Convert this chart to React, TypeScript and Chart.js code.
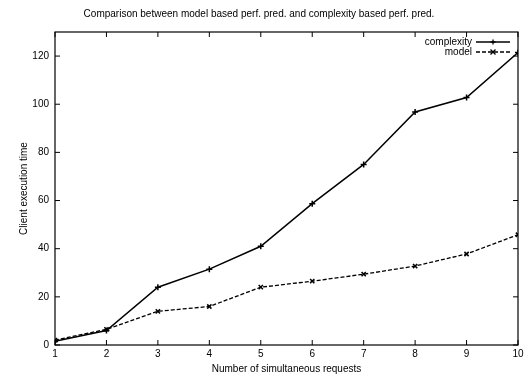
import React, { useEffect, useRef } from "react";
import { Chart, registerables } from "chart.js";

Chart.register(...registerables);

const categories = [1, 2, 3, 4, 5, 6, 7, 8, 9, 10];
const complexityValues = [1.5, 6, 24, 31.5, 41, 58.7, 75, 96.8, 102.8, 121.5];
const modelValues = [2, 6.5, 14, 16, 24, 26.5, 29.4, 32.8, 37.8, 45.8];
const yTicks = [0, 20, 40, 60, 80, 100, 120];
const titleText = "Comparison between model based perf. pred. and complexity based perf. pred.";
const xTitle = "Number of simultaneous requests";
const yTitle = "Client execution time";

const FONT = "'Liberation Sans', Arial, sans-serif";

const framePlugin = {
  id: "gnuFrame",
  afterDatasetsDraw(chart: any) {
    const { ctx, chartArea } = chart;
    const { left, right, top, bottom } = chartArea;
    const xs = chart.scales.x;
    const ys = chart.scales.y;
    ctx.save();
    ctx.strokeStyle = "#000";
    ctx.lineWidth = 1.2;
    ctx.strokeRect(left, top, right - left, bottom - top);
    ctx.lineWidth = 1;
    const tl = 5;
    ctx.beginPath();
    categories.forEach((c) => {
      const px = xs.getPixelForValue(c);
      ctx.moveTo(px, bottom);
      ctx.lineTo(px, bottom - tl);
      ctx.moveTo(px, top);
      ctx.lineTo(px, top + tl);
    });
    yTicks.forEach((v) => {
      const py = ys.getPixelForValue(v);
      ctx.moveTo(left, py);
      ctx.lineTo(left + tl, py);
      ctx.moveTo(right, py);
      ctx.lineTo(right - tl, py);
    });
    ctx.stroke();

    // legend inside top-right
    ctx.font = "10px " + FONT;
    ctx.textAlign = "right";
    ctx.textBaseline = "middle";
    ctx.fillStyle = "#000";
    chart.data.datasets.forEach((ds: any, i: number) => {
      const y = top + 10 + i * 10;
      const textX = right - 46;
      ctx.fillText(ds.label, textX, y);
      const x0 = right - 42;
      const x1 = right - 8;
      ctx.beginPath();
      ctx.setLineDash(ds.borderDash || []);
      ctx.lineWidth = 1.3;
      ctx.moveTo(x0, y);
      ctx.lineTo(x1, y);
      ctx.stroke();
      ctx.setLineDash([]);
      const mx = (x0 + x1) / 2;
      const r = 2.5;
      ctx.beginPath();
      if (ds.pointStyle === "crossRot") {
        ctx.moveTo(mx - r, y - r);
        ctx.lineTo(mx + r, y + r);
        ctx.moveTo(mx - r, y + r);
        ctx.lineTo(mx + r, y - r);
      } else {
        ctx.moveTo(mx, y - r);
        ctx.lineTo(mx, y + r);
        ctx.moveTo(mx - r, y);
        ctx.lineTo(mx + r, y);
      }
      ctx.stroke();
    });
    ctx.restore();
  },
};

export default function App() {
  const ref = useRef<HTMLCanvasElement | null>(null);
  useEffect(() => {
    document.body.style.margin = "0";
    const chart = new Chart(ref.current as HTMLCanvasElement, {
      type: "line",
      data: {
        datasets: [
          {
            label: "complexity",
            data: categories.map((c, i) => ({ x: c, y: complexityValues[i] })),
            borderColor: "#000",
            backgroundColor: "#000",
            borderWidth: 1.5,
            pointStyle: "cross",
            pointRadius: 3,
            pointBorderWidth: 1.5,
            tension: 0,
          },
          {
            label: "model",
            data: categories.map((c, i) => ({ x: c, y: modelValues[i] })),
            borderColor: "#000",
            backgroundColor: "#000",
            borderWidth: 1.3,
            borderDash: [4, 2],
            pointStyle: "crossRot",
            pointRadius: 3,
            pointBorderWidth: 1.5,
            tension: 0,
          },
        ],
      },
      options: {
        animation: false,
        responsive: false,
        layout: { padding: { left: 0, right: 10, top: 0, bottom: 0 } },
        plugins: {
          legend: { display: false },
          tooltip: { enabled: false },
          title: {
            display: true,
            text: titleText,
            color: "#000",
            font: { family: FONT, size: 10, weight: "normal" },
            padding: { top: 8, bottom: 12 },
          },
        },
        scales: {
          x: {
            type: "linear",
            min: 1,
            max: 10,
            grid: { display: false, drawTicks: false, tickLength: 0 },
            border: { display: false },
            afterBuildTicks: (s: any) => {
              s.ticks = categories.map((v) => ({ value: v }));
            },
            ticks: {
              color: "#000",
              font: { family: FONT, size: 10 },
              padding: 3,
              maxRotation: 0,
            },
            title: {
              display: true,
              text: xTitle,
              color: "#000",
              font: { family: FONT, size: 10 },
              padding: { top: 0, bottom: 2 },
            },
          },
          y: {
            type: "linear",
            min: 0,
            max: 130,
            grid: { display: false, drawTicks: false, tickLength: 0 },
            border: { display: false },
            afterBuildTicks: (s: any) => {
              s.ticks = yTicks.map((v) => ({ value: v }));
            },
            afterFit: (s: any) => {
              s.width = 55;
            },
            ticks: {
              color: "#000",
              font: { family: FONT, size: 10 },
              padding: 6,
            },
            title: {
              display: true,
              text: yTitle,
              color: "#000",
              font: { family: FONT, size: 10 },
              padding: { top: 18, bottom: 0 },
            },
          },
        },
      },
      plugins: [framePlugin],
    });
    return () => chart.destroy();
  }, []);
  return (
    <div style={{ position: "absolute", left: 0, top: 0, width: 528, height: 377, background: "#fff" }}>
      <canvas ref={ref} width={528} height={377} style={{ width: 528, height: 377 }} />
    </div>
  );
}
